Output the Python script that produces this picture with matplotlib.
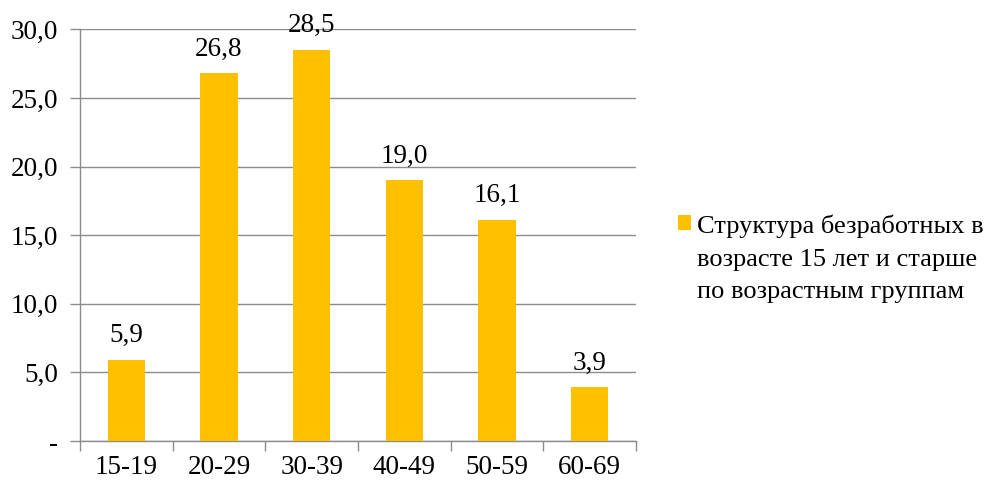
import matplotlib
matplotlib.use("Agg")
import matplotlib.pyplot as plt
from matplotlib.ticker import FixedLocator, NullFormatter
from matplotlib.legend_handler import HandlerPatch, update_from_first_child
from matplotlib.patches import Rectangle
import numpy as np

categories = ["15-19", "20-29", "30-39", "40-49", "50-59", "60-69"]
values = [5.9, 26.8, 28.5, 19.0, 16.1, 3.9]
legend_label = "Структура безработных в\nвозрасте 15 лет и старше\nпо возрастным группам"
yticks = [0, 5, 10, 15, 20, 25, 30]
ytick_labels = ["-", "5,0", "10,0", "15,0", "20,0", "25,0", "30,0"]

plt.rcParams['font.family'] = ['Liberation Serif', 'DejaVu Serif']
FS = 19.5
LFS = 19.0
GRID = "#8c8c8c"

fig = plt.figure(figsize=(9.88, 4.83), dpi=100)
ax = fig.add_axes([80/988, 1-441/483, 556/988, (441-29.3)/483])

x = np.arange(len(categories))
bars = ax.bar(x, values, width=0.4, color="#FFC000", zorder=3)

ax.set_xlim(-0.5, len(categories) - 0.5)
ax.set_ylim(0, 30)
ax.set_yticks(yticks)
ax.set_yticklabels(ytick_labels, fontsize=FS)
ax.yaxis.grid(True, color=GRID, linewidth=1.0, zorder=0)
ax.tick_params(axis="y", length=7, color=GRID, width=1.0, pad=9)

ax.set_xticks(x)
ax.set_xticklabels(categories, fontsize=FS)
ax.tick_params(axis="x", which="major", length=0, pad=10)
ax.xaxis.set_minor_locator(FixedLocator(np.arange(-0.5, len(categories), 1.0)))
ax.xaxis.set_minor_formatter(NullFormatter())
ax.tick_params(axis="x", which="minor", length=7, color=GRID, width=1.0)

for s in ["top", "right"]:
    ax.spines[s].set_visible(False)
for s in ["left", "bottom"]:
    ax.spines[s].set_color(GRID)
    ax.spines[s].set_linewidth(1.0)

for b, v in zip(bars, values):
    ax.annotate(f"{v:.1f}".replace(".", ","), (b.get_x() + b.get_width()/2, v),
                xytext=(0, 8.5), textcoords="offset points", ha="center", va="bottom",
                fontsize=FS)

SHIFT = 25.5
def top_patch(legend, orig_handle, xdescent, ydescent, width, height, fontsize):
    return Rectangle((-xdescent, -ydescent + SHIFT), width, height)

leg = ax.legend(handles=[bars], labels=[legend_label],
                handler_map={bars: HandlerPatch(patch_func=top_patch,
                                                update_func=update_from_first_child)},
                loc="upper left", bbox_to_anchor=(678/988, 1-215/483),
                bbox_transform=fig.transFigure, frameon=False, fontsize=LFS,
                handlelength=0.49, handleheight=0.49, handletextpad=0.24,
                borderpad=0, borderaxespad=0)
for t in leg.get_texts():
    t.set_linespacing(1.6)

fig.savefig("out.png", dpi=100)
